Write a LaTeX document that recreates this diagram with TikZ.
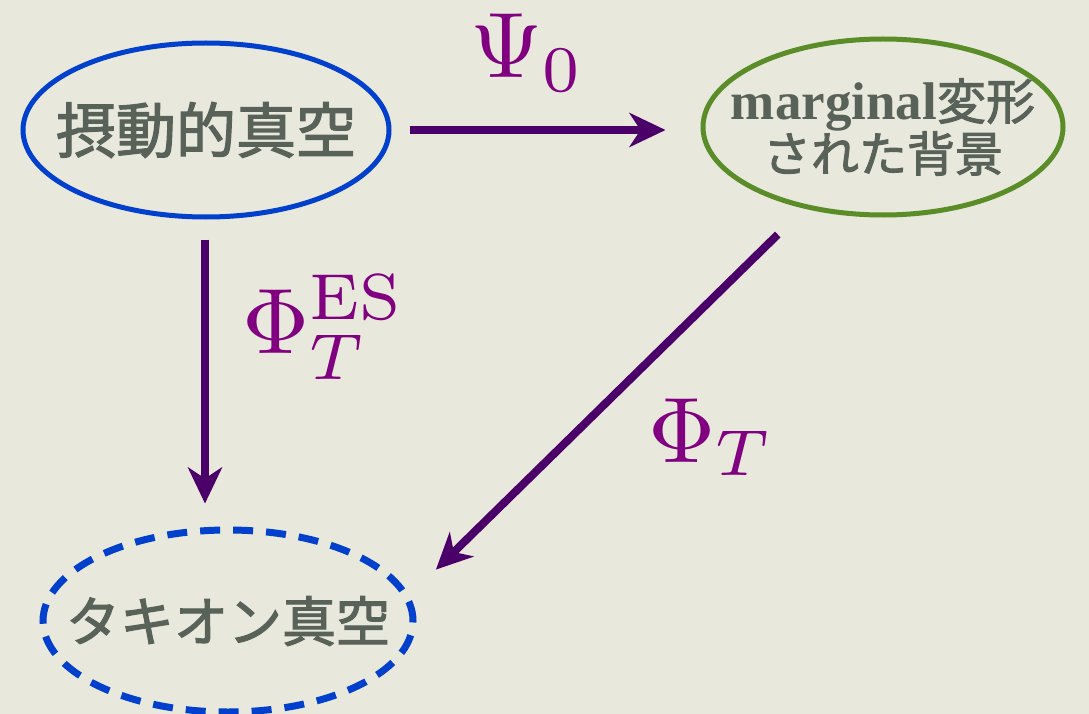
\documentclass[tikz,border=0pt]{standalone}
\usepackage{graphicx}
\usepackage{fontspec}
\newfontfamily\cjk{Noto Sans CJK JP}[FakeBold=2]
\newfontfamily\latserif{Liberation Serif}
\usetikzlibrary{shapes.geometric,arrows.meta}
\definecolor{bgc}{RGB}{232,232,221}
\definecolor{txtc}{RGB}{88,98,88}
\definecolor{bluec}{RGB}{0,64,204}
\definecolor{greenc}{RGB}{90,140,40}
\definecolor{arrc}{RGB}{75,0,105}
\definecolor{labc}{RGB}{128,0,128}
\newcommand{\biglab}[1]{\scalebox{9.3}{\fontsize{10}{12}\selectfont #1}}
\tikzset{
  ell/.style={ellipse, inner sep=0pt, text=txtc},
  arr/.style={draw=arrc, line width=8pt, -{Stealth[length=36pt,width=34pt,inset=11pt]}},
  lab/.style={inner sep=0pt, text=labc, anchor=base west}
}
\begin{document}
\begin{tikzpicture}[x=1pt,y=-1pt]
\fill[bgc] (0,0) rectangle (1089,714);
\useasboundingbox (0,0) rectangle (1089,714);

\node[ell, draw=bluec, line width=5pt, minimum width=366pt, minimum height=174pt]
  (e1) at (206,130) {\makebox[0pt]{\cjk\fontsize{60}{66}\selectfont 摂動的真空}};
\node[ell, draw=greenc, line width=5pt, minimum width=360pt, minimum height=176pt]
  (g) at (883,127) {\makebox[0pt]{\begin{tabular}{@{}c@{}}%
    {\latserif\bfseries\fontsize{53}{55}\selectfont marginal}{\cjk\fontsize{49}{55}\selectfont 変形}\\[4pt]
    {\cjk\fontsize{48}{55}\selectfont された背景}\end{tabular}}};
\node[ell, draw=bluec, line width=7pt, dash pattern=on 20pt off 13pt, minimum width=370pt, minimum height=182pt]
  (t) at (228,621) {\makebox[0pt]{\cjk\fontsize{54}{60}\selectfont タキオン真空}};

\coordinate (vx) at (205,0);
\draw[arr, shorten <=18pt, shorten >=35pt] (e1.east) -- (e1.east -| g.west);
\draw[arr, shorten <=20pt, shorten >=23pt] (e1.south -| vx) -- (vx |- t.north);
\draw[arr, shorten <=37pt, shorten >=37pt] (g.226.5) -- (t.8);

\node[lab] (l1) at (470,78) {\biglab{$\Psi_0$}};
\node[lab] (l2) at (242,353) {\biglab{$\Phi_T^{\mathrm{ES}}$}};
\node[lab] (l3) at (648,462) {\biglab{$\Phi_T$}};
\end{tikzpicture}
\end{document}
